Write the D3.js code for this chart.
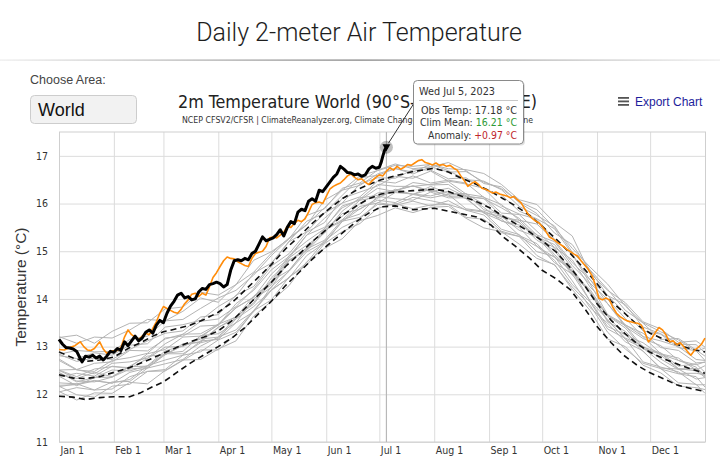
<!DOCTYPE html>
<html><head><meta charset="utf-8">
<script src="https://cdn.jsdelivr.net/npm/d3@7"></script>
<style>
html,body{margin:0;padding:0;background:#fff;}
svg{display:block;}
</style></head>
<body>
<svg id="c" width="720" height="467"></svg>
<script>
// ---------- DATA ----------
const monthDays = [0,31,59,90,120,151,181,212,243,273,304,334];
const monthLabels = ["Jan 1","Feb 1","Mar 1","Apr 1","May 1","Jun 1","Jul 1","Aug 1","Sep 1","Oct 1","Nov 1","Dec 1"];
const tempTicks = [11,12,13,14,15,16,17];

const climDays    = [0,8,15,23,31,40,46,53,59,67,74,82,90,98,105,112,120,128,136,143,151,160,168,175,182,190,200,212,220,228,236,244,251,258,266,273,281,289,297,304,312,319,327,334,342,349,357,365];
const climMean    = [12.41,12.34,12.33,12.37,12.46,12.56,12.65,12.76,12.86,12.99,13.10,13.20,13.33,13.55,13.80,14.06,14.35,14.68,14.95,15.20,15.45,15.75,15.95,16.10,16.20,16.24,16.27,16.30,16.25,16.15,16.04,15.90,15.73,15.58,15.40,15.22,14.98,14.65,14.28,13.90,13.55,13.30,13.05,12.88,12.74,12.64,12.53,12.44];
const climPlus2SD = [12.89,12.76,12.69,12.72,12.78,12.98,13.08,13.22,13.31,13.38,13.45,13.57,13.72,13.93,14.18,14.43,14.72,15.05,15.32,15.58,15.84,16.10,16.28,16.40,16.50,16.58,16.67,16.74,16.66,16.52,16.40,16.25,16.10,15.95,15.75,15.52,15.25,14.95,14.62,14.32,13.95,13.72,13.45,13.28,13.15,13.05,12.95,12.89];
const climMinus2SD= [11.96,11.94,11.89,11.93,11.95,11.95,12.03,12.16,12.26,12.47,12.65,12.83,13.00,13.19,13.40,13.66,13.95,14.28,14.57,14.83,15.10,15.38,15.62,15.80,15.93,15.95,15.87,15.90,15.84,15.78,15.72,15.55,15.30,15.10,14.85,14.60,14.42,14.19,13.80,13.42,13.08,12.82,12.60,12.45,12.32,12.20,12.12,12.06];

// 2023 (black) [day of year, °C]
const obs2023 = [[0,13.15],[2,13.05],[4,12.98],[6,12.97],[8,12.95],[10,12.90],[12,12.75],[13,12.68],[15,12.80],[17,12.78],[19,12.82],[21,12.76],[23,12.80],[25,12.72],[27,12.80],[29,12.90],[31,12.88],[33,12.96],[35,12.92],[37,13.10],[39,13.02],[41,13.12],[43,13.22],[45,13.12],[47,13.18],[49,13.30],[51,13.35],[53,13.28],[55,13.45],[57,13.55],[59,13.50],[61,13.70],[63,13.85],[65,13.95],[67,14.08],[69,14.12],[71,14.02],[73,14.05],[75,13.98],[77,14.00],[79,14.15],[81,14.22],[83,14.20],[85,14.30],[87,14.32],[89,14.35],[91,14.32],[93,14.25],[95,14.30],[97,14.60],[99,14.80],[101,14.82],[103,14.80],[105,14.85],[107,14.82],[109,14.95],[111,15.00],[113,15.15],[115,15.30],[117,15.22],[119,15.25],[121,15.28],[123,15.35],[125,15.45],[127,15.32],[129,15.50],[131,15.62],[133,15.58],[135,15.82],[137,15.88],[139,15.85],[141,16.05],[143,16.10],[145,16.05],[147,16.28],[149,16.25],[151,16.35],[153,16.45],[155,16.55],[157,16.62],[159,16.78],[161,16.72],[163,16.65],[165,16.64],[167,16.60],[169,16.62],[171,16.57],[173,16.60],[175,16.72],[177,16.78],[179,16.74],[181,16.76],[182,16.86],[183,17.00],[184,17.12],[185,17.18]];

// 2022 (orange) [day of year, °C]
const obs2022 = [[0,12.94],[3,12.93],[6,12.98],[9,13.02],[12,13.10],[14,13.00],[16,12.93],[18,12.92],[20,12.96],[23,13.10],[25,12.95],[27,12.86],[29,12.90],[31,12.91],[33,12.92],[35,12.98],[37,13.20],[39,13.35],[41,13.25],[43,13.20],[45,13.15],[47,13.22],[49,13.28],[51,13.25],[53,13.38],[55,13.52],[57,13.70],[59,13.84],[61,13.80],[63,13.76],[65,13.72],[67,13.70],[69,13.78],[71,13.90],[73,13.98],[75,14.10],[77,14.12],[79,14.05],[81,14.12],[83,14.08],[85,14.25],[87,14.45],[89,14.55],[91,14.68],[93,14.80],[95,14.88],[97,14.85],[99,14.84],[101,14.78],[103,14.74],[105,14.70],[107,14.68],[109,14.85],[111,14.95],[113,14.98],[115,15.00],[117,15.10],[119,15.28],[121,15.30],[123,15.28],[125,15.34],[127,15.40],[129,15.52],[131,15.50],[133,15.58],[135,15.65],[137,15.62],[139,15.68],[141,15.82],[143,15.98],[145,16.02],[147,16.03],[149,16.00],[151,16.15],[153,16.30],[155,16.36],[157,16.40],[159,16.43],[161,16.50],[163,16.58],[165,16.62],[167,16.55],[169,16.50],[171,16.52],[173,16.45],[175,16.40],[177,16.48],[179,16.55],[181,16.60],[183,16.58],[185,16.68],[187,16.75],[189,16.70],[191,16.78],[193,16.72],[195,16.76],[197,16.82],[199,16.80],[201,16.85],[203,16.90],[205,16.92],[207,16.86],[209,16.84],[211,16.81],[213,16.85],[215,16.80],[217,16.82],[219,16.78],[221,16.80],[223,16.74],[225,16.70],[227,16.58],[229,16.48],[231,16.36],[233,16.42],[235,16.46],[237,16.40],[239,16.32],[241,16.30],[243,16.26],[245,16.22],[247,16.24],[249,16.20],[251,16.18],[253,16.16],[255,16.12],[257,16.15],[259,16.08],[261,16.02],[263,15.90],[265,15.78],[267,15.70],[269,15.64],[271,15.60],[273,15.52],[275,15.42],[277,15.30],[279,15.26],[281,15.20],[283,15.15],[285,15.10],[287,15.04],[289,14.99],[291,14.94],[293,14.90],[295,14.80],[297,14.71],[299,14.62],[301,14.50],[303,14.30],[305,14.02],[307,13.98],[309,14.02],[311,13.98],[313,13.82],[315,13.70],[317,13.63],[319,13.58],[321,13.54],[323,13.52],[325,13.50],[327,13.49],[329,13.45],[331,13.30],[333,13.10],[335,13.18],[337,13.30],[339,13.40],[341,13.35],[343,13.24],[345,13.10],[347,13.12],[349,13.04],[351,13.08],[353,13.00],[355,12.90],[357,12.82],[359,12.92],[361,12.98],[363,13.05],[365,13.18]];

// earlier years (grey), sampled every 10 days
const priorDays = [0,10,20,30,40,50,60,70,80,90,100,110,120,130,140,150,160,170,180,190,200,210,220,230,240,250,260,270,280,290,300,310,320,330,340,350,360,365];
const priorYears = [
 [12.06,11.88,12.03,12.02,12.25,12.22,12.50,12.72,12.73,12.95,13.12,13.64,13.95,14.28,14.78,15.06,15.26,15.64,15.75,15.91,15.81,15.92,15.94,15.69,15.49,15.41,15.15,14.85,14.72,14.20,13.76,13.16,13.00,12.61,12.45,12.17,12.14,12.10],
 [12.17,11.99,11.94,12.17,12.21,12.48,12.49,12.71,12.93,12.93,13.26,13.75,13.98,14.46,14.71,15.16,15.41,15.58,15.90,16.00,15.89,15.97,15.98,15.71,15.67,15.39,15.31,14.91,14.71,14.25,13.87,13.30,12.95,12.65,12.54,12.24,12.21,12.02],
 [12.05,12.14,12.09,12.11,12.37,12.48,12.52,12.82,12.89,13.14,13.30,13.74,14.18,14.45,14.76,15.22,15.50,15.68,16.02,15.96,16.05,15.95,16.06,15.86,15.76,15.42,15.31,15.10,14.81,14.30,13.94,13.37,13.17,12.68,12.57,12.47,12.20,12.20],
 [12.16,12.22,12.09,12.26,12.27,12.55,12.64,12.73,13.01,13.20,13.35,13.76,14.19,14.44,14.91,15.17,15.63,15.71,15.98,15.98,16.13,16.06,15.98,15.87,15.82,15.46,15.35,14.99,14.89,14.38,13.82,13.49,13.10,12.91,12.53,12.43,12.37,12.15],
 [12.19,12.20,12.28,12.24,12.31,12.60,12.72,12.82,13.12,13.15,13.50,13.73,14.26,14.58,14.99,15.19,15.62,15.89,16.07,16.02,16.19,16.12,16.19,15.89,15.84,15.68,15.33,15.16,14.76,14.52,13.96,13.42,13.25,12.90,12.55,12.53,12.32,12.35],
 [12.24,12.22,12.29,12.23,12.46,12.55,12.85,12.85,13.08,13.17,13.58,13.84,14.18,14.59,15.05,15.23,15.66,15.78,16.15,16.10,16.07,16.24,16.12,16.12,15.80,15.64,15.50,15.11,14.87,14.60,13.96,13.57,13.15,12.97,12.67,12.44,12.44,12.41],
 [12.38,12.18,12.35,12.36,12.53,12.56,12.83,13.02,13.16,13.20,13.63,13.89,14.38,14.60,15.06,15.44,15.63,15.94,16.01,16.23,16.20,16.16,16.26,16.10,15.81,15.73,15.44,15.30,14.89,14.57,14.14,13.54,13.18,13.01,12.74,12.52,12.54,12.35],
 [12.45,12.28,12.26,12.36,12.58,12.59,12.86,12.90,13.23,13.27,13.50,14.00,14.30,14.82,15.01,15.39,15.79,15.88,16.11,16.30,16.19,16.30,16.15,16.16,15.92,15.63,15.55,15.35,14.93,14.58,14.14,13.52,13.32,12.95,12.86,12.54,12.49,12.36],
 [12.46,12.26,12.35,12.51,12.49,12.60,12.91,13.02,13.11,13.41,13.58,14.00,14.24,14.80,15.07,15.45,15.66,16.00,16.22,16.27,16.19,16.36,16.21,16.21,15.87,15.76,15.61,15.23,15.02,14.50,14.16,13.63,13.24,13.08,12.82,12.53,12.54,12.39],
 [12.50,12.33,12.46,12.37,12.59,12.80,12.83,13.06,13.09,13.40,13.63,13.92,14.44,14.80,15.02,15.48,15.73,16.07,16.13,16.27,16.37,16.27,16.18,16.20,15.99,15.71,15.65,15.29,15.07,14.54,14.20,13.65,13.39,12.96,12.84,12.71,12.57,12.39],
 [12.37,12.44,12.38,12.59,12.54,12.75,12.99,13.00,13.19,13.47,13.62,14.06,14.33,14.86,15.13,15.38,15.84,16.12,16.17,16.28,16.37,16.25,16.32,16.14,16.11,15.73,15.60,15.30,15.14,14.64,14.11,13.65,13.44,12.99,12.87,12.59,12.64,12.46],
 [12.51,12.37,12.53,12.58,12.56,12.85,12.94,13.20,13.22,13.45,13.81,14.04,14.37,14.91,15.21,15.47,15.95,16.07,16.32,16.25,16.44,16.39,16.40,16.16,16.10,15.91,15.69,15.34,15.20,14.70,14.32,13.67,13.46,13.21,12.85,12.76,12.51,12.60],
 [12.51,12.52,12.43,12.65,12.68,12.76,13.06,13.26,13.27,13.47,13.82,14.03,14.52,14.86,15.34,15.50,15.91,16.09,16.40,16.36,16.36,16.40,16.46,16.20,16.14,15.80,15.77,15.42,15.08,14.82,14.25,13.90,13.42,13.17,13.02,12.71,12.62,12.68],
 [12.71,12.51,12.48,12.71,12.77,12.86,13.18,13.22,13.43,13.45,13.90,14.18,14.61,14.89,15.34,15.69,16.01,16.14,16.47,16.43,16.58,16.43,16.49,16.43,16.13,15.98,15.65,15.57,15.23,14.76,14.41,13.90,13.45,13.28,12.98,12.92,12.66,12.67],
 [12.74,12.52,12.65,12.68,12.92,12.91,13.16,13.26,13.53,13.58,13.84,14.21,14.69,14.95,15.40,15.60,16.11,16.24,16.37,16.57,16.53,16.68,16.47,16.41,16.32,15.95,15.78,15.67,15.25,14.93,14.33,13.99,13.59,13.21,13.12,13.00,12.73,12.71],
 [12.84,12.69,12.76,12.73,12.94,13.12,13.28,13.33,13.62,13.67,14.08,14.26,14.74,15.20,15.41,15.80,16.01,16.41,16.54,16.53,16.71,16.70,16.52,16.54,16.30,16.18,15.84,15.68,15.47,14.94,14.40,14.07,13.70,13.33,13.26,12.98,12.91,12.71],
 [12.81,12.75,12.87,12.82,13.03,13.06,13.41,13.46,13.55,13.84,14.06,14.54,14.75,15.21,15.63,15.80,16.17,16.54,16.59,16.73,16.66,16.82,16.69,16.50,16.47,16.29,15.94,15.75,15.53,14.98,14.60,14.07,13.88,13.41,13.27,13.05,13.04,12.87],
 [12.84,12.92,12.89,12.90,13.15,13.22,13.54,13.57,13.80,14.02,14.18,14.50,14.91,15.26,15.55,16.07,16.28,16.58,16.69,16.80,16.78,16.82,16.73,16.71,16.63,16.40,16.08,15.98,15.60,15.32,14.54,14.18,13.92,13.52,13.37,13.09,13.12,12.99],
 [13.21,13.07,13.20,13.18,13.35,13.57,13.54,13.74,14.02,13.93,14.30,14.56,14.96,15.28,15.56,15.91,16.28,16.38,16.62,16.74,16.62,16.77,16.66,16.67,16.45,16.31,16.04,15.87,15.49,15.06,14.67,14.31,13.85,13.49,13.15,13.17,12.93,12.80],
 [13.19,13.24,13.07,13.32,13.49,13.50,13.79,13.83,14.14,14.08,14.30,14.81,14.99,15.26,15.75,15.89,16.32,16.43,16.70,16.83,16.73,16.77,16.86,16.69,16.42,16.35,16.02,15.79,15.38,15.14,14.61,14.20,13.76,13.50,13.31,13.14,12.90,12.97]
];

const tipDateLabel = "Wed Jul 5, 2023";
const tipDay = 185;
const tipObs = 17.18;
const tipClim = 16.21;
const tipAnom = "+0.97";

// ---------- DRAW ----------
const svg = d3.select("#c");
const FONT_UI = "'Liberation Sans', Arial, sans-serif";
const FONT_CH = "'DejaVu Sans Condensed','DejaVu Sans',sans-serif";

const defs = svg.append("defs");
const grad = defs.append("linearGradient").attr("id","hr");
grad.append("stop").attr("offset","0%").attr("stop-color","#ececec");
grad.append("stop").attr("offset","50%").attr("stop-color","#7d7d7d");
grad.append("stop").attr("offset","100%").attr("stop-color","#ececec");

svg.append("rect").attr("width",720).attr("height",467).attr("fill","#fff");

// page header
svg.append("text").attr("x",359).attr("y",41).attr("text-anchor","middle")
  .attr("font-family","Roboto, 'Open Sans', sans-serif").attr("font-weight",300)
  .attr("font-size",25).attr("fill","#1e1e1e").text("Daily 2-meter Air Temperature");
svg.append("rect").attr("x",0).attr("y",59.5).attr("width",720).attr("height",1.2).attr("fill","url(#hr)");

svg.append("text").attr("x",30).attr("y",84).attr("font-family",FONT_UI)
  .attr("font-size",12.5).attr("fill","#444").text("Choose Area:");
svg.append("rect").attr("x",30.5).attr("y",95.5).attr("width",106).attr("height",28).attr("rx",4)
  .attr("fill","#f2f2f2").attr("stroke","#cdcdcd");
svg.append("text").attr("x",38).attr("y",116).attr("font-family",FONT_UI)
  .attr("font-size",18).attr("fill","#111").text("World");

// chart titles
svg.append("text").attr("x",357.5).attr("y",108).attr("text-anchor","middle")
  .attr("font-family",FONT_CH).attr("font-size",17.5).attr("fill","#222")
  .attr("textLength",359).attr("lengthAdjust","spacingAndGlyphs")
  .text("2m Temperature World (90°S-90°N, 0-360°E)");
svg.append("text").attr("x",357.5).attr("y",123).attr("text-anchor","middle")
  .attr("font-family",FONT_CH).attr("font-size",9).attr("fill","#333")
  .attr("textLength",351).attr("lengthAdjust","spacingAndGlyphs")
  .text("NCEP CFSV2/CFSR | ClimateReanalyzer.org, Climate Change Institute, University of Maine");

// export
[97,100.5,104].forEach(yy=>svg.append("rect").attr("x",618).attr("y",yy).attr("width",11).attr("height",1.8).attr("fill","#555"));
svg.append("text").attr("x",635).attr("y",105.5).attr("font-family",FONT_UI)
  .attr("font-size",12).attr("fill","#1d1d9b").text("Export Chart");

// scales
const x = d3.scaleLinear().domain([0,365]).range([59,705]);
const y = d3.scaleLinear().domain([11,17.5]).range([442,132]);

// axes / grid
const gy = svg.append("g").attr("transform","translate(59,0)")
  .call(d3.axisLeft(y).tickValues(tempTicks).tickSize(-646).tickPadding(11).tickFormat(d3.format("d")));
gy.select(".domain").remove();
gy.selectAll(".tick line").attr("stroke","#dcdcdc");
gy.selectAll(".tick text").attr("font-family",FONT_CH).attr("font-size",10.5).attr("fill","#333");

const gx = svg.append("g").attr("transform","translate(0,442)")
  .call(d3.axisBottom(x).tickValues(monthDays).tickSize(-310).tickPadding(5).tickFormat((d,i)=>monthLabels[i]));
gx.select(".domain").remove();
gx.selectAll(".tick line").attr("stroke","#dcdcdc");
gx.selectAll(".tick text").attr("font-family",FONT_CH).attr("font-size",10.5).attr("fill","#333")
  .attr("text-anchor","start").attr("x",1);

svg.append("rect").attr("x",59.5).attr("y",132).attr("width",646).attr("height",310)
  .attr("fill","none").attr("stroke","#cfcfcf");

svg.append("text").attr("transform","translate(26,287) rotate(-90)").attr("text-anchor","middle")
  .attr("font-family",FONT_UI).attr("font-size",15.5).attr("fill","#333").text("Temperature (°C)");

// crosshair
svg.append("line").attr("x1",x(tipDay)).attr("x2",x(tipDay)).attr("y1",132).attr("y2",442)
  .attr("stroke","#b8b8b8").attr("stroke-width",1.2);

const line = d3.line().x(d=>x(d[0])).y(d=>y(d[1]));

const gGrey = svg.append("g");
priorYears.forEach(arr=>{
  gGrey.append("path").attr("d", line(priorDays.map((d,i)=>[d,arr[i]])))
    .attr("fill","none").attr("stroke","#b4b4b4").attr("stroke-width",1);
});

[climPlus2SD, climMinus2SD, climMean].forEach(arr=>{
  svg.append("path").attr("d", line(climDays.map((d,i)=>[d,arr[i]])))
    .attr("fill","none").attr("stroke","#111").attr("stroke-width",1.6).attr("stroke-dasharray","6,4");
});

svg.append("path").attr("d", line(obs2022)).attr("fill","none")
  .attr("stroke","#ff8c0a").attr("stroke-width",1.6).attr("stroke-linejoin","round");
svg.append("path").attr("d", line(obs2023)).attr("fill","none")
  .attr("stroke","#000").attr("stroke-width",3).attr("stroke-linejoin","round");

// marker
const mx = x(tipDay), my = y(tipObs);
svg.append("circle").attr("cx",mx).attr("cy",my).attr("r",6.5).attr("fill","#000").attr("opacity",0.25);
svg.append("path").attr("d",`M${mx-4},${my-3} L${mx+4},${my-3} L${mx},${my+4} Z`).attr("fill","#000");

// tooltip
const tx = 413.5, ty = 80.5, tw = 110, th = 63.5;
svg.append("line").attr("x1",mx+2).attr("y1",my-4).attr("x2",tx).attr("y2",104).attr("stroke","#333").attr("stroke-width",1);
svg.append("rect").attr("x",tx+1.5).attr("y",ty+1.5).attr("width",tw).attr("height",th).attr("rx",4).attr("fill","#000").attr("opacity",0.12);
svg.append("rect").attr("x",tx).attr("y",ty).attr("width",tw).attr("height",th).attr("rx",4)
  .attr("fill","#fff").attr("stroke","#8a8a8a");
svg.append("text").attr("x",419).attr("y",95).attr("font-family",FONT_CH).attr("font-size",11)
  .attr("fill","#333").attr("textLength",76).attr("lengthAdjust","spacingAndGlyphs").text(tipDateLabel);
svg.append("line").attr("x1",419).attr("x2",518).attr("y1",100.5).attr("y2",100.5).attr("stroke","#c8c8c8");
const tipRows = [
  {lab:"Obs Temp: ", val: tipObs.toFixed(2)+" °C", col:"#333", yy:114, w:96},
  {lab:"Clim Mean: ", val: tipClim.toFixed(2)+" °C", col:"#2e9a35", yy:126, w:97},
  {lab:"Anomaly: ", val: tipAnom+" °C", col:"#c0262c", yy:138.5, w:89}
];
tipRows.forEach(r=>{
  const t = svg.append("text").attr("x",517).attr("y",r.yy).attr("text-anchor","end")
    .attr("font-family",FONT_CH).attr("font-size",11).attr("fill","#333")
    .attr("textLength",r.w).attr("lengthAdjust","spacingAndGlyphs");
  t.append("tspan").text(r.lab);
  t.append("tspan").attr("fill",r.col).text(r.val);
});
</script>
</body></html>
